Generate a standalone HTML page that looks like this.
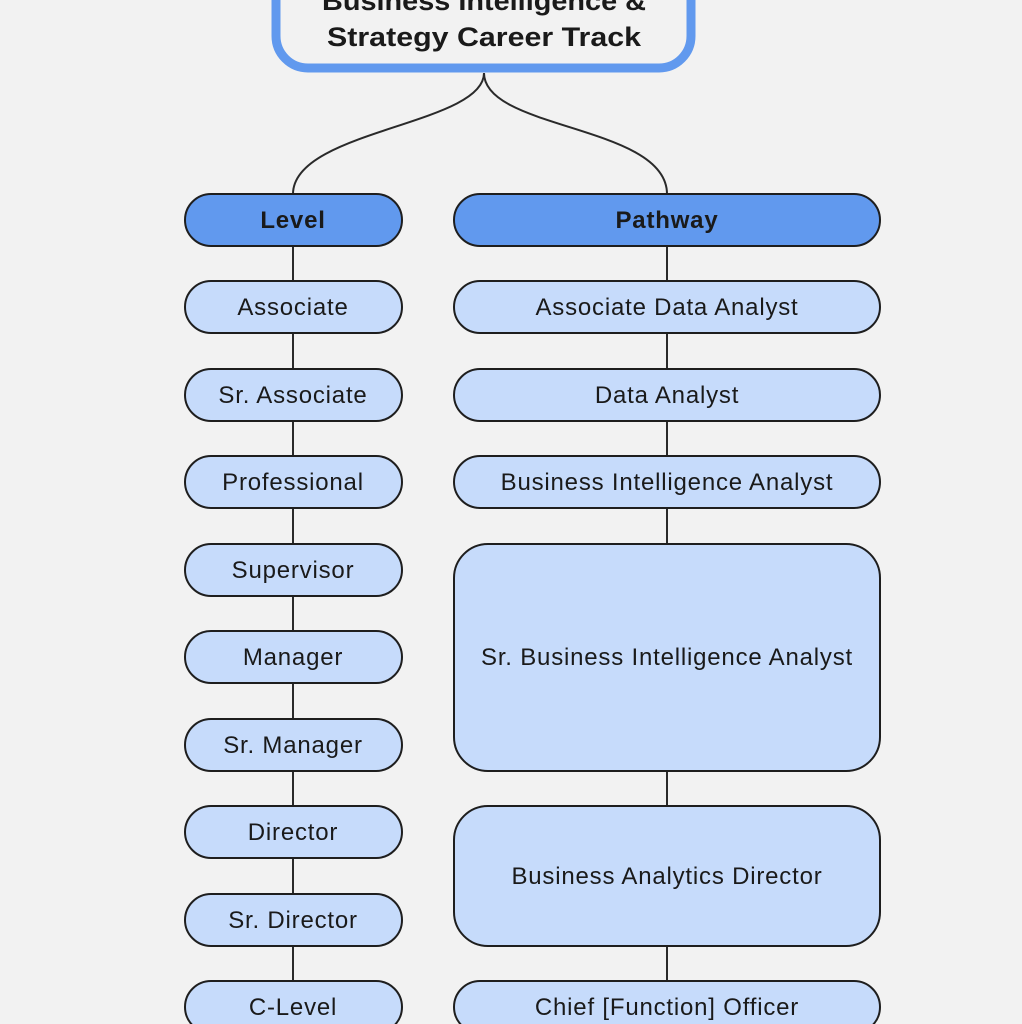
<!DOCTYPE html>
<html><head><meta charset="utf-8"><style>
html,body{margin:0;padding:0;background:#f2f2f2;}
svg{display:block;}
text{font-family:"Liberation Sans",sans-serif;fill:#1a1a1a;}
</style></head><body>
<svg width="1022" height="1024" viewBox="0 0 1022 1024">
<rect x="0" y="0" width="1022" height="1024" fill="#f2f2f2"/>
<rect x="276" y="-40" width="415" height="108" rx="32" fill="#f2f2f2" stroke="#6199ee" stroke-width="9"/>
<text x="484" y="10" font-size="27" font-weight="bold" text-anchor="middle" textLength="324" lengthAdjust="spacingAndGlyphs">Business Intelligence &amp;</text>
<text x="484" y="46" font-size="27" font-weight="bold" text-anchor="middle" textLength="314" lengthAdjust="spacingAndGlyphs">Strategy Career Track</text>
<g fill="none" stroke="#2a2a2a" stroke-width="2">
<path d="M484 73 C484 125 293 130 293 194"/>
<path d="M484 73 C484 130 667 125 667 194"/>
<line x1="293" y1="246" x2="293" y2="985"/>
<line x1="667" y1="246" x2="667" y2="985"/>
</g>
<g stroke="#1e1e1e" stroke-width="2">
<rect x="185" y="194" width="217" height="52" rx="26" fill="#6199ee"/>
<rect x="454" y="194" width="426" height="52" rx="26" fill="#6199ee"/>
<g fill="#c6dbfb">
<rect x="185" y="281" width="217" height="52" rx="26"/>
<rect x="185" y="369" width="217" height="52" rx="26"/>
<rect x="185" y="456" width="217" height="52" rx="26"/>
<rect x="185" y="544" width="217" height="52" rx="26"/>
<rect x="185" y="631" width="217" height="52" rx="26"/>
<rect x="185" y="719" width="217" height="52" rx="26"/>
<rect x="185" y="806" width="217" height="52" rx="26"/>
<rect x="185" y="894" width="217" height="52" rx="26"/>
<rect x="185" y="981" width="217" height="52" rx="26"/>
<rect x="454" y="281" width="426" height="52" rx="26"/>
<rect x="454" y="369" width="426" height="52" rx="26"/>
<rect x="454" y="456" width="426" height="52" rx="26"/>
<rect x="454" y="544" width="426" height="227" rx="34"/>
<rect x="454" y="806" width="426" height="140" rx="34"/>
<rect x="454" y="981" width="426" height="52" rx="26"/>
</g>
</g>
<g font-size="24" text-anchor="middle" letter-spacing="0.8">
<text x="293" y="228" font-weight="bold">Level</text>
<text x="667" y="228" font-weight="bold">Pathway</text>
<text x="293" y="315">Associate</text>
<text x="293" y="403">Sr. Associate</text>
<text x="293" y="490">Professional</text>
<text x="293" y="578">Supervisor</text>
<text x="293" y="665">Manager</text>
<text x="293" y="753">Sr. Manager</text>
<text x="293" y="840">Director</text>
<text x="293" y="928">Sr. Director</text>
<text x="293" y="1015">C-Level</text>
<text x="667" y="315">Associate Data Analyst</text>
<text x="667" y="403">Data Analyst</text>
<text x="667" y="490">Business Intelligence Analyst</text>
<text x="667" y="665">Sr. Business Intelligence Analyst</text>
<text x="667" y="884">Business Analytics Director</text>
<text x="667" y="1015">Chief [Function] Officer</text>
</g>
</svg>
</body></html>
